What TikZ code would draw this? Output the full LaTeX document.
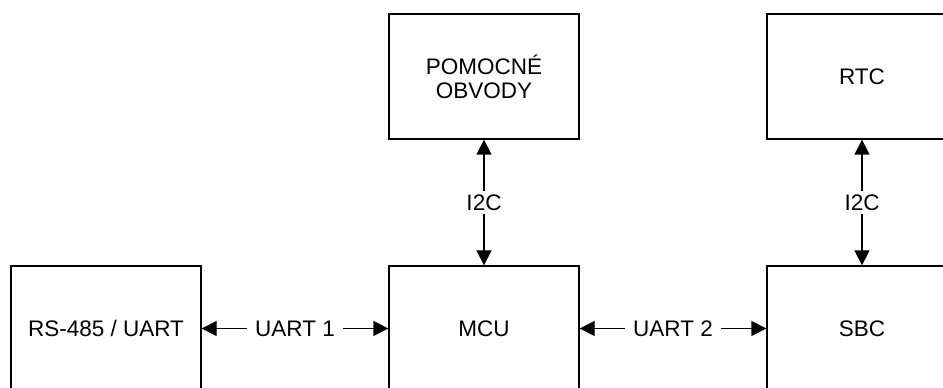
\documentclass[tikz,border=0pt]{standalone}
\usepackage{fontspec}
\setmainfont{Liberation Sans}
\usetikzlibrary{arrows.meta}
\begin{document}
\begin{tikzpicture}[x=1pt,y=1pt,
  blk/.style={draw=black,line width=1.3pt,minimum width=190pt,minimum height=125pt,inner sep=0pt,align=center,font=\fontsize{22.5}{24}\selectfont},
  link/.style={line width=1.3pt,{Triangle[length=15pt,width=15pt]}-{Triangle[length=15pt,width=15pt]}},
  lbl/.style={fill=white,inner xsep=8pt,inner ysep=4pt,font=\fontsize{22.5}{24}\selectfont}]
\useasboundingbox (0,0) rectangle (943,388);
\fill[white] (0,0) rectangle (943,388);
\clip (0,0) rectangle (943,388);
\node[blk] (pom) at (484,311.5) {POMOCNÉ\\OBVODY};
\node[blk] (rtc) at (862,311.5) {RTC};
\node[blk] (rs) at (106,59.5) {RS-485 / UART};
\node[blk] (mcu) at (484,59.5) {MCU};
\node[blk] (sbc) at (862,59.5) {SBC};
\draw[link] (rs.east) -- node[lbl] {UART 1} (mcu.west);
\draw[link] (mcu.east) -- node[lbl] {UART 2} (sbc.west);
\draw[link] (pom.south) -- node[lbl,inner xsep=3pt] {I2C} (mcu.north);
\draw[link] (rtc.south) -- node[lbl,inner xsep=3pt] {I2C} (sbc.north);
\end{tikzpicture}
\end{document}
